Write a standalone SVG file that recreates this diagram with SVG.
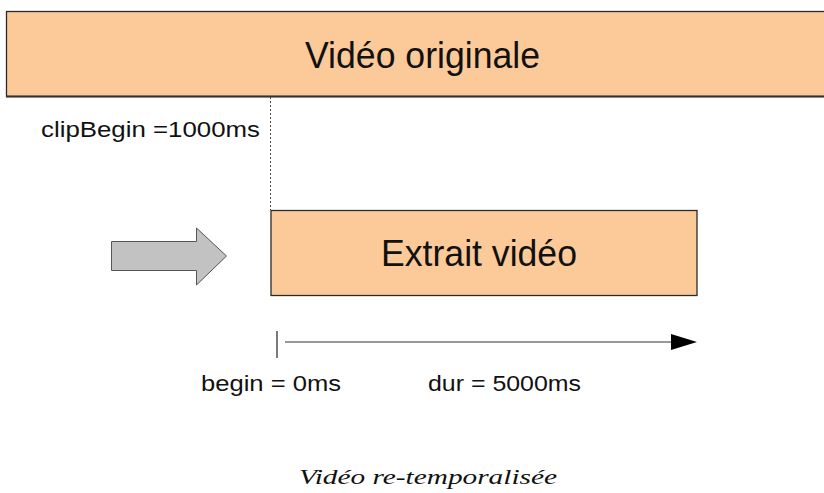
<svg xmlns="http://www.w3.org/2000/svg" width="824" height="493" viewBox="0 0 824 493">
<style>
.box{fill:#FCCA98;stroke:#2a2a2a;stroke-width:1.3}
.t{font-family:"Liberation Sans",Arial,sans-serif;fill:#111}
.cap{font-family:"Liberation Serif","Times New Roman",serif;font-style:italic;fill:#111}
</style>
<rect width="824" height="493" fill="#fff"/>
<g id="original">
<rect class="box" x="6.5" y="11.5" width="830" height="85"/>
<line x1="6" y1="96.5" x2="824" y2="96.5" stroke="#333" stroke-width="1.8"/>
<text class="t" x="305" y="68" font-size="37" textLength="235" lengthAdjust="spacingAndGlyphs">Vidéo originale</text>
</g>
<g id="clipbegin-label">
<text class="t" x="41" y="137" font-size="22" textLength="219" lengthAdjust="spacingAndGlyphs">clipBegin =1000ms</text>
</g>
<g id="extrait">
<rect class="box" x="271" y="210.5" width="426" height="85"/>
<text class="t" x="381" y="266" font-size="36" textLength="196" lengthAdjust="spacingAndGlyphs">Extrait vidéo</text>
</g>
<g id="gray-arrow">
<polygon points="111.5,241.5 196.5,241.5 196.5,228 226.5,256 196.5,285 196.5,270.5 111.5,270.5" fill="#C2C2C2" stroke="#555" stroke-width="1"/>
</g>
<g id="connectors">
<line x1="270.5" y1="97" x2="270.5" y2="210" stroke="#444" stroke-width="1" stroke-dasharray="2,2"/>
<line x1="277" y1="331" x2="277" y2="358" stroke="#333" stroke-width="1.3"/>
<line x1="285" y1="342" x2="674" y2="342" stroke="#333" stroke-width="1.2"/>
<polygon points="671,334 697,342 671,350" fill="#000"/>
</g>
<g id="begin-label">
<text class="t" x="201" y="391" font-size="22" textLength="140" lengthAdjust="spacingAndGlyphs">begin = 0ms</text>
</g>
<g id="dur-label">
<text class="t" x="428" y="391" font-size="22" textLength="153" lengthAdjust="spacingAndGlyphs">dur = 5000ms</text>
</g>
<g id="caption">
<text class="cap" x="299" y="484" font-size="22" textLength="258" lengthAdjust="spacingAndGlyphs">Vidéo re-temporalisée</text>
</g>
</svg>
